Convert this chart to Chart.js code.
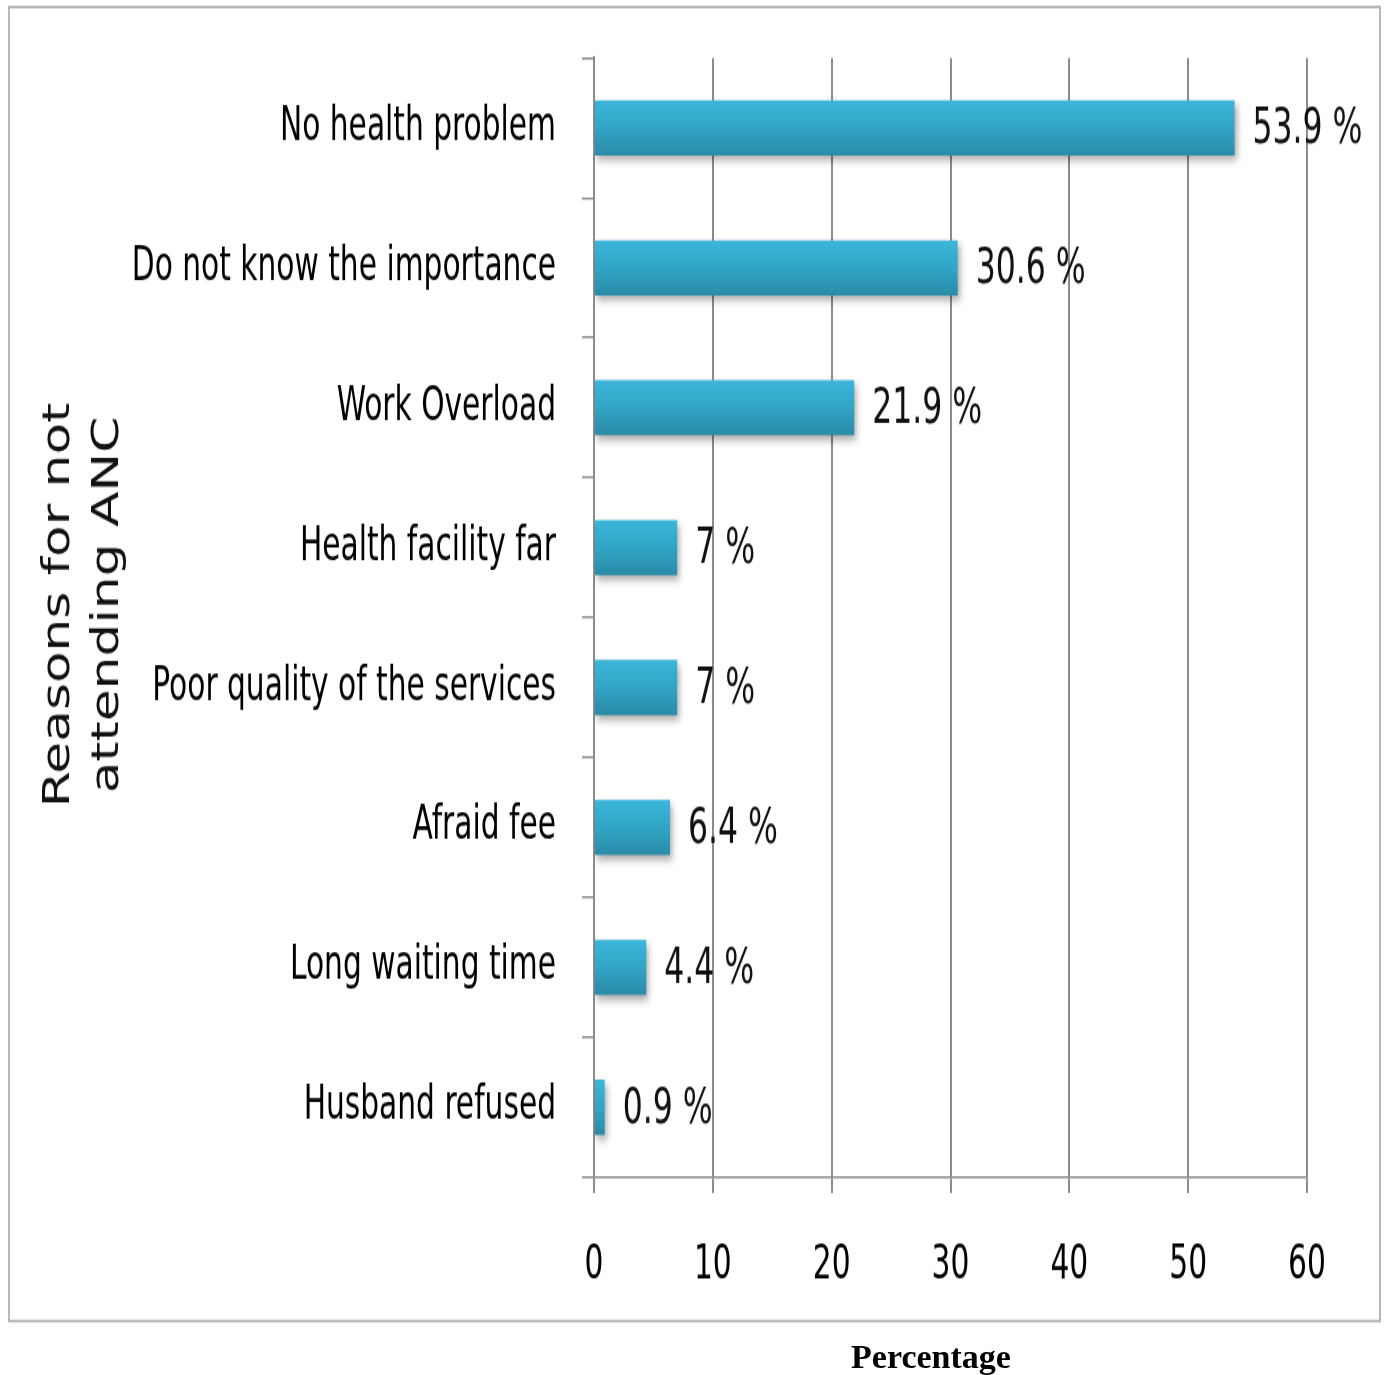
<!DOCTYPE html>
<html>
<head>
<meta charset="utf-8">
<script src="https://cdn.jsdelivr.net/npm/chart.js@4.4.0/dist/chart.umd.min.js"></script>
<style>
body{margin:0;background:#fff}
#wrap{position:absolute;left:0;top:0;width:1385px;height:982px;transform:scaleY(1.4002);transform-origin:0 0}
#xTitle{position:absolute;left:731px;top:1337px;width:400px;text-align:center;font:bold 34px 'Liberation Serif','Times New Roman',serif;line-height:40px;color:#000}
</style>
</head>
<body>
<!-- the chart is drawn a bit squat, then stretched tall like the original -->
<div id="wrap"><canvas id="ancChart" width="1385" height="982"></canvas></div>
<div id="xTitle">Percentage</div>
<script>
var reasonList=["No health problem","Do not know the importance","Work Overload","Health facility far","Poor quality of the services","Afraid fee","Long waiting time","Husband refused"];
var percentList=[53.9,30.6,21.9,7,7,6.4,4.4,0.9];
var xTickList=[0,10,20,30,40,50,60];
var yTitleLines=["Reasons for not","attending ANC"];

var narrowFont="'DejaVu Sans Condensed','Liberation Sans Narrow',sans-serif";
var lineColor="#8c8c8c";

//bar fill, light on top darker below
function barFill(context){
    var chart=context.chart;
    var y=chart.scales.y;
    if(!y||context.dataIndex===undefined){
        return "#33a9cc";
    }
    var c=y.getPixelForValue(context.dataIndex);
    if(!isFinite(c)){
        return "#33a9cc";
    }
    var g=chart.ctx.createLinearGradient(0,c-20,0,c+20);
    g.addColorStop(0,"#3bb6da");
    g.addColorStop(0.5,"#31a5c6");
    g.addColorStop(1,"#2a8ba7");
    return g;
}

//frame and y title
var framePlugin={
    id:"frame",
    beforeDraw:function(chart){
        var ctx=chart.ctx;
        ctx.save();
        ctx.fillStyle="#fff";
        ctx.fillRect(0,0,chart.width,chart.height);
        ctx.strokeStyle="#a6a6a6";
        ctx.lineWidth=1.6;
        ctx.strokeRect(9,5,1371,938.5);

        ctx.fillStyle="#111";
        ctx.font="37px 'DejaVu Sans',sans-serif";
        ctx.textAlign="center";
        ctx.textBaseline="middle";
        var xs=[59,108];
        for(var i=0;i<yTitleLines.length;i++){
            ctx.save();
            ctx.translate(xs[i],432);
            ctx.rotate(-Math.PI/2);
            ctx.fillText(yTitleLines[i],0,0);
            ctx.restore();
        }
        ctx.restore();
    }
};

//bar shadows and value labels
var barPlugin={
    id:"barLabels",
    beforeDatasetsDraw:function(chart){
        var ctx=chart.ctx;
        ctx.save();
        ctx.shadowColor="rgba(0,0,0,0.35)";
        ctx.shadowBlur=6;
        ctx.shadowOffsetX=2;
        ctx.shadowOffsetY=3.5;
    },
    afterDatasetsDraw:function(chart){
        var ctx=chart.ctx;
        ctx.restore();
        ctx.save();
        ctx.font="35px "+narrowFont;
        ctx.fillStyle="#111";
        ctx.textAlign="left";
        ctx.textBaseline="middle";
        var meta=chart.getDatasetMeta(0);
        for(var i=0;i<meta.data.length;i++){
            var el=meta.data[i];
            ctx.fillText(percentList[i]+" %",el.x+18,el.y+2);
        }
        ctx.restore();
    }
};

var ancChart=new Chart(document.getElementById("ancChart"),{
    type:"bar",
    data:{
        labels:reasonList,
        datasets:[{
            label:"Percentage",
            data:percentList,
            backgroundColor:barFill,
            borderWidth:0,
            categoryPercentage:1,
            barPercentage:0.393
        }]
    },
    options:{
        indexAxis:"y",
        responsive:false,
        animation:false,
        layout:{padding:{top:41.4,right:78,left:0,bottom:0}},
        plugins:{
            legend:{display:false},
            tooltip:{enabled:false}
        },
        scales:{
            x:{
                type:"linear",
                min:0,
                max:60,
                afterBuildTicks:function(s){
                    s.ticks=xTickList.map(function(v){return {value:v};});
                },
                afterFit:function(s){s.height=141.3;},
                ticks:{
                    font:{family:narrowFont,size:33},
                    color:"#000",
                    padding:33
                },
                grid:{color:lineColor,lineWidth:2,tickLength:11.4},
                border:{color:lineColor,width:1.5}
            },
            y:{
                type:"category",
                offset:true,
                afterFit:function(s){
                    s.width=594;
                    s.paddingTop=0;
                    s.paddingBottom=0;
                },
                ticks:{
                    font:{family:narrowFont,size:33},
                    color:"#000",
                    padding:26
                },
                grid:{offset:true,drawOnChartArea:false,color:lineColor,lineWidth:1.5,tickLength:12},
                border:{color:lineColor,width:2}
            }
        }
    },
    plugins:[framePlugin,barPlugin]
});
</script>
</body>
</html>
